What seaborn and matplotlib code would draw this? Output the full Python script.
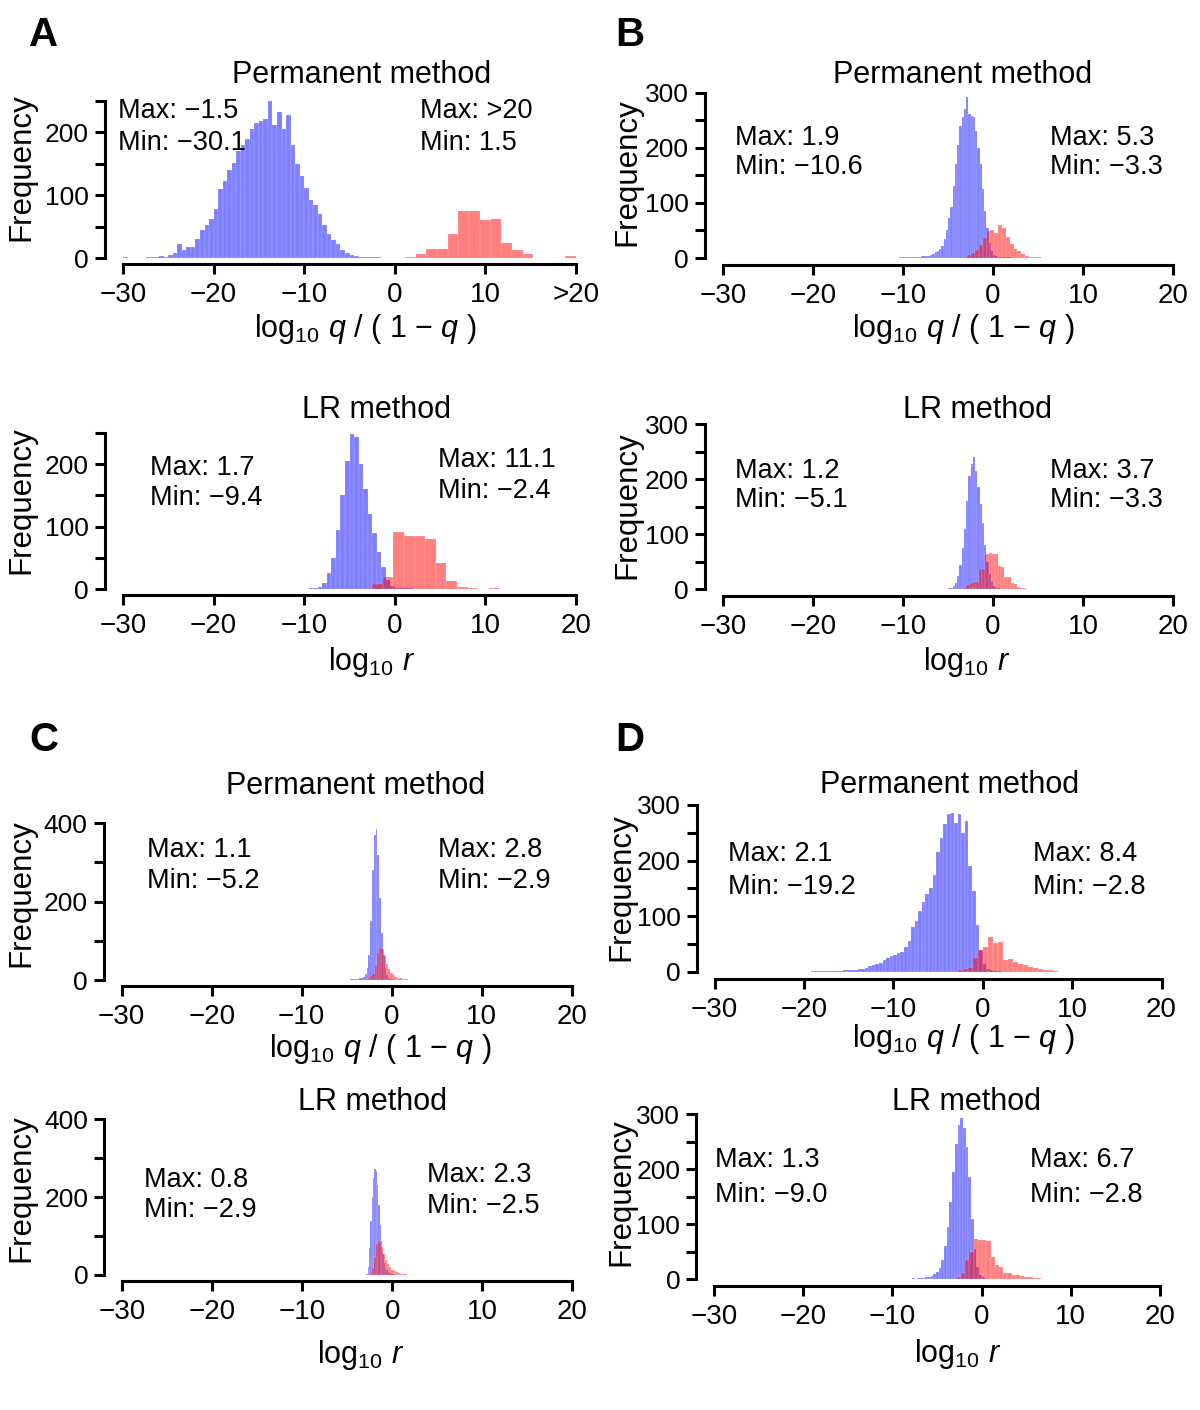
import numpy as np
import pandas as pd
import matplotlib
matplotlib.use("Agg")
import matplotlib.pyplot as plt
import seaborn as sns

# ---------------- data (bin start, bin width, bar heights) -------------
A_perm_blue_start, A_perm_blue_width = -30.0, 0.5
A_perm_blue = [1, 0, 0, 0, 0, 1, 2, 2, 3, 2, 4, 8, 22, 12, 18, 17, 30, 45, 52, 62,
               78, 110, 122, 140, 152, 170, 180, 190, 205, 215, 218, 222, 250, 212, 232, 205,
               228, 180, 150, 130, 112, 92, 85, 70, 52, 38, 28, 22, 13, 8, 5, 3, 2, 2, 1, 1, 1]
A_perm_red_start, A_perm_red_width = 1.13, 1.18
A_perm_red = [2, 7, 15, 15, 38, 75, 75, 61, 62, 24, 13, 6, 0, 0, 0, 3]

A_lr_blue_start, A_lr_blue_width = -9.5, 0.5
A_lr_blue = [1, 2, 3, 10, 25, 50, 95, 150, 205, 248, 244, 200, 160, 120, 90, 60, 35, 14, 5, 2, 1, 1, 1]
A_lr_red_start, A_lr_red_width = -2.5, 1.17
A_lr_red = [8, 20, 92, 85, 85, 80, 41, 13, 3, 1, 0, 1]

B_perm_blue_start, B_perm_blue_width = -10.5, 0.25
B_perm_blue = [1, 1, 1, 1, 1, 2, 1, 2, 2, 2, 3, 3, 4, 4, 6, 8, 10, 12, 16, 22,
               35, 50, 72, 92, 130, 170, 205, 240, 255, 270, 292, 262, 258, 255, 230, 200,
               170, 125, 85, 55, 28, 12, 5, 3, 2, 2, 1, 1, 1, 1]
B_perm_red_start, B_perm_red_width = -3.3, 0.43
B_perm_red = [2, 5, 9, 15, 24, 36, 49, 50, 46, 60, 55, 38, 26, 17, 12, 7, 4, 2, 2, 1]

B_lr_blue_start, B_lr_blue_width = -5.25, 0.25
B_lr_blue = [1, 2, 3, 6, 12, 25, 45, 75, 110, 160, 205, 228, 240, 215, 185, 155,
             120, 80, 50, 28, 14, 6, 3, 2, 1, 1]
B_lr_red_start, B_lr_red_width = -3.3, 0.35
B_lr_red = [2, 8, 11, 13, 14, 36, 36, 64, 65, 64, 64, 42, 40, 23, 22, 11, 10, 4, 3, 2]

C_perm_blue_start, C_perm_blue_width = -5.2, 0.2
C_perm_blue = [1, 1, 1, 2, 2, 2, 3, 3, 4, 5, 8, 15, 30, 65, 150, 280, 370, 385, 320, 210,
               120, 65, 30, 14, 6, 3, 2, 1, 1, 1, 1, 1]
C_perm_red_start, C_perm_red_width = -2.9, 0.25
C_perm_red = [2, 5, 10, 15, 35, 70, 82, 80, 60, 42, 28, 18, 12, 8, 5, 4, 3, 2, 2, 1, 1, 1, 1]

C_lr_blue_start, C_lr_blue_width = -2.9, 0.15
C_lr_blue = [3, 20, 70, 140, 200, 250, 272, 268, 230, 180, 128, 88, 55, 30, 18, 12,
             8, 5, 3, 2, 2, 1, 1, 1, 1]
C_lr_red_start, C_lr_red_width = -2.5, 0.24
C_lr_red = [5, 18, 45, 80, 85, 72, 55, 38, 27, 20, 14, 10, 7, 5, 3, 2, 2, 1, 1, 1]

D_perm_blue_start, D_perm_blue_width = -19.2, 0.4
D_perm_blue = [1, 1, 1, 1, 2, 1, 2, 2, 2, 3, 3, 4, 4, 5, 6, 8, 10, 12, 14, 16,
               22, 26, 28, 30, 34, 36, 45, 55, 80, 92, 110, 125, 140, 150, 175, 215,
               240, 265, 283, 285, 268, 283, 250, 272, 190, 145, 85, 40, 15, 6, 3, 2, 1]
D_perm_red_start, D_perm_red_width = -2.8, 0.56
D_perm_red = [3, 5, 8, 25, 40, 45, 63, 52, 54, 22, 24, 18, 15, 12, 9, 8, 6, 4, 3, 1]

D_lr_blue_start, D_lr_blue_width = -9.0, 0.3
D_lr_blue = [1, 1, 1, 1, 2, 1, 2, 2, 3, 4, 5, 6, 10, 14, 20, 35, 60, 95, 140, 195,
             245, 280, 292, 275, 240, 185, 110, 55, 22, 8, 4, 2, 1, 1, 1]
D_lr_red_start, D_lr_red_width = -2.8, 0.475
D_lr_red = [5, 12, 35, 50, 74, 72, 71, 70, 41, 26, 22, 11, 11, 8, 8, 6, 5, 4, 3, 2]

x_tick_values = [-30, -20, -10, 0, 10, 20]
x_tick_labels = ["\u221230", "\u221220", "\u221210", "0", "10", "20"]
x_tick_labels_overflow = ["\u221230", "\u221220", "\u221210", "0", "10", ">20"]

A_perm_text = [["Max: \u22121.5", "Min: \u221230.1"], ["Max: >20", "Min: 1.5"]]
A_lr_text = [["Max: 1.7", "Min: \u22129.4"], ["Max: 11.1", "Min: \u22122.4"]]
B_perm_text = [["Max: 1.9", "Min: \u221210.6"], ["Max: 5.3", "Min: \u22123.3"]]
B_lr_text = [["Max: 1.2", "Min: \u22125.1"], ["Max: 3.7", "Min: \u22123.3"]]
C_perm_text = [["Max: 1.1", "Min: \u22125.2"], ["Max: 2.8", "Min: \u22122.9"]]
C_lr_text = [["Max: 0.8", "Min: \u22122.9"], ["Max: 2.3", "Min: \u22122.5"]]
D_perm_text = [["Max: 2.1", "Min: \u221219.2"], ["Max: 8.4", "Min: \u22122.8"]]
D_lr_text = [["Max: 1.3", "Min: \u22129.0"], ["Max: 6.7", "Min: \u22122.8"]]

XLAB_Q = "$\\mathrm{log}_{10}$ $q$ / ( 1 \u2212 $q$ )"
XLAB_R = "$\\mathrm{log}_{10}$ $r$"

# ---------------- style ----------------
sns.set_style("ticks")
plt.rcParams["font.family"] = ["Liberation Sans", "DejaVu Sans"]
plt.rcParams["mathtext.fontset"] = "custom"
plt.rcParams["mathtext.rm"] = "Liberation Sans"
plt.rcParams["mathtext.it"] = "Liberation Sans:italic"
plt.rcParams["mathtext.bf"] = "Liberation Sans:bold"
for key in ("text.color", "axes.labelcolor", "xtick.color", "ytick.color", "axes.edgecolor"):
    plt.rcParams[key] = "black"

W, H = 1200, 1410
fig = plt.figure(figsize=(12, 14.1), dpi=100)

BLUE = (0.0, 0.0, 1.0)
RED = (1.0, 0.0, 0.0)
LW = 2.2


def fx(px):
    return px / W


def fy(py):
    return 1 - py / H


def draw_hist(ax, start, width, counts, color):
    n = len(counts)
    centers = [start + width * (i + 0.5) for i in range(n)]
    df = pd.DataFrame({"x": centers, "w": [float(c) for c in counts]})
    sns.histplot(data=df, x="x", weights="w", bins=n, binrange=(start, start + width * n),
                 color=color, alpha=0.5, edgecolor=(1, 1, 1, 0.35), linewidth=0.3, ax=ax)


def panel(geom, top, ystep, ylab_step, blue, red, xlabels, texts, text_pos,
          title, title_pos, xlab, xlab_pos, freq_pos):
    xm30, x20, y0, ytop = geom
    ppx = (x20 - xm30) / 50
    L, R = xm30 - 2 * ppx, x20 + 2 * ppx
    ppy = (y0 - ytop) / top
    B, T = y0 + 0.04 * top * ppy, ytop - 0.04 * top * ppy
    ax = fig.add_axes([fx(L), fy(B), (R - L) / W, (B - T) / H])
    ax.set_facecolor("none")
    draw_hist(ax, *blue, BLUE)
    draw_hist(ax, *red, RED)
    ax.set_xlim(-32, 22)
    ax.set_ylim(-0.04 * top, 1.04 * top)
    ax.set_xlabel("")
    ax.set_ylabel("")
    for s in ("top", "right"):
        ax.spines[s].set_visible(False)
    for s in ("left", "bottom"):
        ax.spines[s].set_linewidth(LW)
        ax.spines[s].set_color("black")
    ax.spines["left"].set_bounds(0, top)
    ax.spines["bottom"].set_bounds(-30, 20)
    ax.set_xticks(x_tick_values, xlabels)
    yt = list(range(0, top + 1, ystep))
    ax.set_yticks(yt, [str(v) if v % ylab_step == 0 else "" for v in yt])
    ax.tick_params(axis="both", length=7.5, width=LW, color="black", labelcolor="black")
    ax.tick_params(axis="x", pad=5.5, labelsize=20)
    ax.tick_params(axis="y", pad=4, labelsize=19)
    ax.grid(False)
    (lx, lb1, lb2), (rx, rb1, rb2) = text_pos
    fig.text(fx(lx), fy(lb1), texts[0][0], fontsize=19.5, va="baseline", ha="left")
    fig.text(fx(lx), fy(lb2), texts[0][1], fontsize=19.5, va="baseline", ha="left")
    fig.text(fx(rx), fy(rb1), texts[1][0], fontsize=19.5, va="baseline", ha="left")
    fig.text(fx(rx), fy(rb2), texts[1][1], fontsize=19.5, va="baseline", ha="left")
    fig.text(fx(title_pos[0]), fy(title_pos[1]), title, fontsize=22, ha="center", va="baseline")
    fig.text(fx(xlab_pos[0]), fy(xlab_pos[1]), xlab, fontsize=22, ha="center", va="center")
    fig.text(fx(freq_pos[0]), fy(freq_pos[1]), "Frequency", fontsize=22.5, ha="center",
             va="center", rotation=90)
    return ax


# Panel A
panel((123, 576, 258, 101), 250, 50, 100,
      (A_perm_blue_start, A_perm_blue_width, A_perm_blue),
      (A_perm_red_start, A_perm_red_width, A_perm_red),
      x_tick_labels_overflow, A_perm_text, ((118, 118.3, 150), (420, 118.3, 150)),
      "Permanent method", (362, 83), XLAB_Q, (365, 329), (21, 167))
panel((123, 576, 589, 433), 250, 50, 100,
      (A_lr_blue_start, A_lr_blue_width, A_lr_blue),
      (A_lr_red_start, A_lr_red_width, A_lr_red),
      x_tick_labels, A_lr_text, ((150, 475, 505), (438, 466.7, 498.3)),
      "LR method", (377, 418), XLAB_R, (372, 662), (21, 500))
# Panel B
panel((723, 1173, 258, 92.7), 300, 50, 100,
      (B_perm_blue_start, B_perm_blue_width, B_perm_blue),
      (B_perm_red_start, B_perm_red_width, B_perm_red),
      x_tick_labels, B_perm_text, ((735, 145, 174.3), (1050, 145, 174.3)),
      "Permanent method", (963, 83), XLAB_Q, (963, 329), (627, 172))
panel((723, 1173, 589.3, 424), 300, 50, 100,
      (B_lr_blue_start, B_lr_blue_width, B_lr_blue),
      (B_lr_red_start, B_lr_red_width, B_lr_red),
      x_tick_labels, B_lr_text, ((735, 478.3, 506.7), (1050, 478.3, 506.7)),
      "LR method", (978, 418), XLAB_R, (967, 662), (627, 505))
# Panel C
panel((121.7, 571.7, 980, 823.3), 400, 100, 200,
      (C_perm_blue_start, C_perm_blue_width, C_perm_blue),
      (C_perm_red_start, C_perm_red_width, C_perm_red),
      x_tick_labels, C_perm_text, ((146.7, 856.7, 888.3), (438.3, 856.7, 888.3)),
      "Permanent method", (356, 794), XLAB_Q, (380, 1049), (21, 893))
panel((122.3, 572.3, 1275, 1119.3), 400, 100, 200,
      (C_lr_blue_start, C_lr_blue_width, C_lr_blue),
      (C_lr_red_start, C_lr_red_width, C_lr_red),
      x_tick_labels, C_lr_text, ((144.3, 1186.7, 1216.7), (426.7, 1181.7, 1213.3)),
      "LR method", (373, 1110), XLAB_R, (361, 1355), (21, 1188))
# Panel D
panel((714.5, 1161.5, 972, 805), 300, 50, 100,
      (D_perm_blue_start, D_perm_blue_width, D_perm_blue),
      (D_perm_red_start, D_perm_red_width, D_perm_red),
      x_tick_labels, D_perm_text, ((728.3, 860.7, 894), (1033.3, 860.7, 894)),
      "Permanent method", (950, 793), XLAB_Q, (963, 1039), (621, 887))
panel((714, 1160, 1279.3, 1114), 300, 50, 100,
      (D_lr_blue_start, D_lr_blue_width, D_lr_blue),
      (D_lr_red_start, D_lr_red_width, D_lr_red),
      x_tick_labels, D_lr_text, ((715, 1166.7, 1201.7), (1030, 1166.7, 1201.7)),
      "LR method", (967, 1110), XLAB_R, (958, 1354), (621, 1192))

for letter, (px, py) in zip("ABCD", [(43.5, 35), (630, 35), (43.5, 740), (630, 740)]):
    fig.text(fx(px), fy(py), letter, fontsize=29, fontweight="bold", ha="center", va="center")

fig.savefig("out.png", dpi=100, facecolor="white")
